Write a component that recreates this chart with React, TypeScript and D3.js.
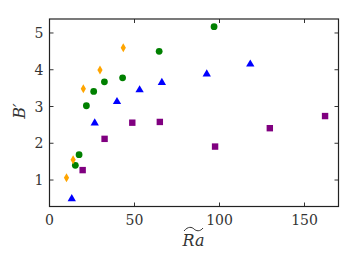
import React, { useEffect, useRef } from "react";
import * as d3 from "d3";

// [Ra, B']
const orangeDiamonds: [number, number][] = [
  [10.0, 1.06], [13.9, 1.55], [19.9, 3.48], [29.7, 3.99], [43.4, 4.6],
];
const greenCircles: [number, number][] = [
  [15.2, 1.4], [17.4, 1.69], [21.7, 3.02], [26.0, 3.41], [32.3, 3.67],
  [43.0, 3.78], [64.5, 4.5], [96.8, 5.17],
];
const blueTriangles: [number, number][] = [
  [13.1, 0.49], [26.6, 2.55], [39.7, 3.13], [53.0, 3.45], [66.1, 3.65],
  [92.5, 3.88], [118.1, 4.15],
];
const purpleSquares: [number, number][] = [
  [19.5, 1.27], [32.4, 2.12], [48.7, 2.56], [64.9, 2.58], [97.4, 1.91],
  [129.6, 2.41], [162.1, 2.74],
];
const xTicks = [0, 50, 100, 150];
const yTicks = [1, 2, 3, 4, 5];

export default function App() {
  const svgRef = useRef<SVGSVGElement>(null);

  useEffect(() => {
    const w = 357;
    const h = 268;
    const m = { left: 49.5, right: 338.5, top: 19, bottom: 206.5 };

    const svg = d3.select(svgRef.current).attr("width", w).attr("height", h);
    svg.selectAll("*").remove();

    const x = d3.scaleLinear().domain([0, 170]).range([m.left, m.right]);
    const y = d3.scaleLinear().domain([0.28, 5.38]).range([m.bottom, m.top]);

    const font = "'DejaVu Serif', serif";

    //ticks, pointing inward on all four sides
    const tl = 4;
    const g = svg.append("g").attr("stroke", "#333").attr("stroke-width", 1);
    xTicks.forEach((t) => {
      g.append("line").attr("x1", x(t)).attr("x2", x(t)).attr("y1", m.bottom).attr("y2", m.bottom - tl);
      g.append("line").attr("x1", x(t)).attr("x2", x(t)).attr("y1", m.top).attr("y2", m.top + tl);
    });
    yTicks.forEach((t) => {
      g.append("line").attr("x1", m.left).attr("x2", m.left + tl).attr("y1", y(t)).attr("y2", y(t));
      g.append("line").attr("x1", m.right).attr("x2", m.right - tl).attr("y1", y(t)).attr("y2", y(t));
    });

    //frame
    svg
      .append("rect")
      .attr("x", m.left)
      .attr("y", m.top)
      .attr("width", m.right - m.left)
      .attr("height", m.bottom - m.top)
      .attr("fill", "none")
      .attr("stroke", "#222")
      .attr("stroke-width", 1.2);

    //tick labels
    svg
      .selectAll(".xt")
      .data(xTicks)
      .join("text")
      .attr("x", (d) => x(d))
      .attr("y", m.bottom + 18)
      .attr("text-anchor", "middle")
      .style("font-family", font)
      .style("font-size", "14px")
      .attr("fill", "#333")
      .text((d) => d);

    svg
      .selectAll(".yt")
      .data(yTicks)
      .join("text")
      .attr("x", m.left - 6)
      .attr("y", (d) => y(d) + 5)
      .attr("text-anchor", "end")
      .style("font-family", font)
      .style("font-size", "14px")
      .attr("fill", "#333")
      .text((d) => d);

    //axis labels
    svg
      .append("text")
      .attr("transform", "translate(25,111) rotate(-90)")
      .attr("text-anchor", "middle")
      .style("font-family", font)
      .style("font-style", "italic")
      .style("font-size", "16px")
      .attr("fill", "#333")
      .text("B\u2032");

    svg
      .append("text")
      .attr("x", 193.5)
      .attr("y", 246)
      .attr("text-anchor", "middle")
      .style("font-family", font)
      .style("font-style", "italic")
      .style("font-size", "16px")
      .attr("fill", "#333")
      .text("Ra");
    svg
      .append("path")
      .attr("d", "M184,231 C188,226 192,227 194,229 C196,231 200,232 203,228")
      .attr("fill", "none")
      .attr("stroke", "#333")
      .attr("stroke-width", 1);

    //points
    const plot = svg.append("g");
    plot
      .selectAll(".sq")
      .data(purpleSquares)
      .join("rect")
      .attr("x", (d) => x(d[0]) - 3.2)
      .attr("y", (d) => y(d[1]) - 3.2)
      .attr("width", 6.4)
      .attr("height", 6.4)
      .attr("fill", "#800080");

    plot
      .selectAll(".tri")
      .data(blueTriangles)
      .join("path")
      .attr("d", d3.symbol(d3.symbolTriangle, 30)())
      .attr("transform", (d) => `translate(${x(d[0])},${y(d[1])})`)
      .attr("fill", "#0000ff");

    plot
      .selectAll(".circ")
      .data(greenCircles)
      .join("circle")
      .attr("cx", (d) => x(d[0]))
      .attr("cy", (d) => y(d[1]))
      .attr("r", 3.4)
      .attr("fill", "#008000");

    plot
      .selectAll(".dia")
      .data(orangeDiamonds)
      .join("path")
      .attr("d", "M0,-4.5L2.6,0L0,4.5L-2.6,0Z")
      .attr("transform", (d) => `translate(${x(d[0])},${y(d[1])})`)
      .attr("fill", "#ffa500");
  }, []);

  return (
    <div style={{ margin: -8 }}>
      <svg ref={svgRef} style={{ display: "block" }}></svg>
    </div>
  );
}
